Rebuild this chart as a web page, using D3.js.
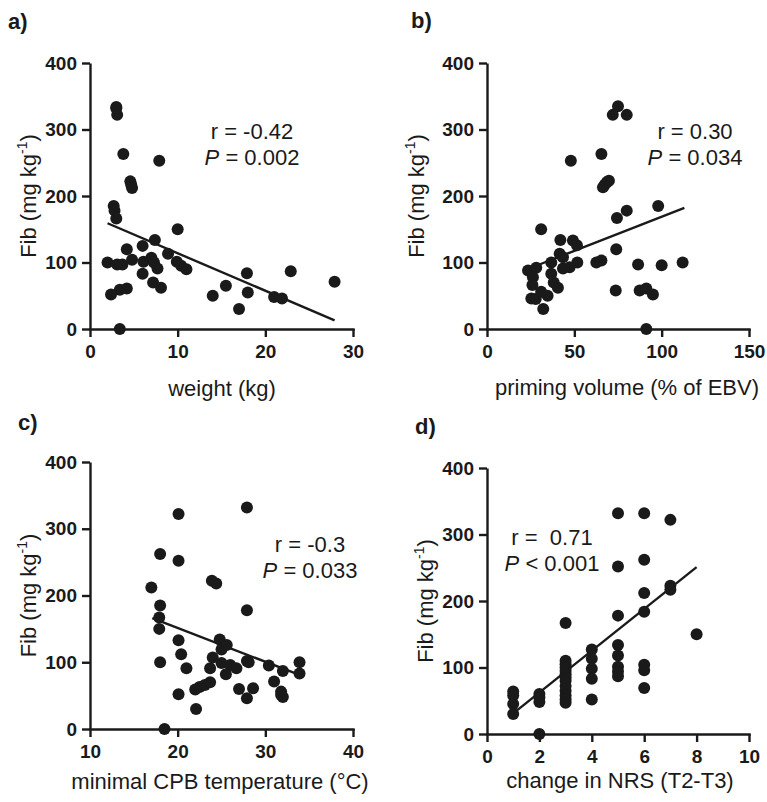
<!DOCTYPE html>
<html>
<head>
<meta charset="utf-8">
<script src="https://cdn.jsdelivr.net/npm/d3@7"></script>
<style>
  body { margin: 0; background: #fff; }
  svg text { font-family: "Liberation Sans", Arial, sans-serif; }
</style>
</head>
<body>
<script>
// data (Fib in mg/kg)

var weightX   = [3.0, 3.1, 3.8, 7.9, 4.6, 4.7, 4.8, 2.7, 2.8, 3.0, 10.0, 7.4, 6.0, 4.2, 8.9, 2.0, 3.1, 3.7, 4.8, 6.1, 7.0, 7.3, 7.7, 9.9, 10.4, 11.0, 6.0, 17.9, 22.9, 27.9, 7.2, 8.1, 15.5, 4.2, 3.4, 2.4, 14.0, 18.0, 21.0, 21.9, 17.0, 3.4, 3.0];
var weightFib = [334, 322, 263, 253, 222, 217, 212, 185, 178, 166, 150, 134, 125, 120, 113, 100, 97, 97, 104, 101, 107, 100, 91, 101, 95, 90, 83, 84, 87, 71, 70, 62, 65, 61, 59, 52, 50, 55, 48, 46, 30, 0, 332];

var primingX   = [75, 72, 80, 65.5, 48, 67.4, 68.7, 69.8, 66.4, 98, 80, 74.4, 31, 42, 49.2, 51.5, 74, 41.6, 43.5, 36.8, 51.7, 62.6, 65.5, 86.5, 100, 112, 23.5, 28.2, 36.8, 43.5, 47.3, 26.3, 26, 38.2, 40.6, 73.7, 87.4, 91.2, 95, 31, 34.7, 25.4, 27.9, 32.2, 91.2];
var primingFib = [335, 322, 322, 263, 253, 217, 221, 223, 213, 185, 178, 167, 150, 134, 133, 126, 120, 113, 108, 100, 100, 100, 103, 97, 96, 100, 88, 92, 83, 91, 93, 78, 66, 70, 62, 58, 58, 61, 52, 56, 50, 46, 45, 30, 0];

var tempX   = [27.9, 20.1, 18.0, 20.1, 17.0, 23.9, 24.4, 27.9, 18.0, 17.9, 17.9, 20.1, 24.8, 25.0, 25.6, 20.4, 24.0, 27.9, 28.1, 18.0, 21.0, 23.7, 25.0, 26.0, 26.7, 25.5, 30.4, 32.0, 33.9, 33.9, 31.0, 23.7, 23.1, 22.5, 22.0, 27.0, 28.6, 27.9, 31.8, 31.8, 32.0, 20.1, 22.1, 18.5];
var tempFib = [332, 322, 262, 252, 212, 222, 218, 178, 185, 167, 150, 133, 134, 119, 126, 112, 107, 102, 100, 100, 91, 91, 99, 96, 91, 82, 95, 87, 100, 83, 71, 70, 66, 63, 59, 60, 61, 46, 56, 51, 48, 52, 30, 0];

var nrsX   = [1, 1, 1, 1, 2, 2, 2, 2, 3, 3, 3, 3, 3, 3, 3, 3, 3, 3, 3, 3, 3, 4, 4, 4, 4, 4, 5, 5, 5, 5, 5, 5, 5, 5, 6, 6, 6, 6, 6, 6, 6, 7, 7, 7, 8];
var nrsFib = [64, 58, 45, 30, 60, 55, 48, 0, 167, 110, 105, 100, 95, 90, 85, 80, 72, 65, 58, 52, 47, 127, 113, 98, 83, 52, 332, 252, 178, 134, 118, 101, 94, 87, 332, 262, 212, 184, 104, 96, 69, 322, 223, 217, 150];

// regression line end points [x1, y1, x2, y2]
var weightLine  = [2, 159, 27.9, 13];
var primingLine = [30, 97, 113, 182];
var tempLine    = [17.1, 166, 33.9, 81];
var nrsLine     = [1, 31, 8, 251];

// tick labels
var fibTicks     = [0, 100, 200, 300, 400];
var weightTicks  = [0, 10, 20, 30];
var primingTicks = [0, 50, 100, 150];
var tempTicks    = [10, 20, 30, 40];
var nrsTicks     = [0, 2, 4, 6, 8, 10];

var ink = "#1a1a1a";

var svg = d3.select("body").append("svg")
  .attr("width", 767)
  .attr("height", 802);

var panels = [
  { tag: "a)", tagX: 8, tagY: 29, xs: weightX, ys: weightFib, line: weightLine,
    xDom: [0, 30], xTicks: weightTicks, left: 90, right: 353, top: 63, bottom: 329,
    xTitle: "weight (kg)", xTitleX: 222, xTitleY: 396, yTitleX: 36,
    stat1: "r = -0.42", stat2: [" = 0.002"], statX: 252, statY: 139 },
  { tag: "b)", tagX: 411, tagY: 28, xs: primingX, ys: primingFib, line: primingLine,
    xDom: [0, 150], xTicks: primingTicks, left: 487, right: 749, top: 63, bottom: 329,
    xTitle: "priming volume (% of EBV)", xTitleX: 627, xTitleY: 395, yTitleX: 424,
    stat1: "r = 0.30", stat2: [" = 0.034"], statX: 695, statY: 139 },
  { tag: "c)", tagX: 18, tagY: 430, xs: tempX, ys: tempFib, line: tempLine,
    xDom: [10, 40], xTicks: tempTicks, left: 90, right: 353, top: 462, bottom: 729,
    xTitle: "minimal CPB temperature (°C)", xTitleX: 220, xTitleY: 789, yTitleX: 36,
    stat1: "r = -0.3", stat2: [" = 0.033"], statX: 310, statY: 552 },
  { tag: "d)", tagX: 415, tagY: 434, xs: nrsX, ys: nrsFib, line: nrsLine,
    xDom: [0, 10], xTicks: nrsTicks, left: 487, right: 749, top: 468, bottom: 734,
    xTitle: "change in NRS (T2-T3)", xTitleX: 620, xTitleY: 788, yTitleX: 433,
    stat1: "r =  0.71", stat2: [" < 0.001"], statX: 552, statY: 545 }
];

panels.forEach(function(p) {
  var x = d3.scaleLinear().domain(p.xDom).range([p.left, p.right]);
  var y = d3.scaleLinear().domain([0, 400]).range([p.bottom, p.top]);

  // panel letter
  svg.append("text")
    .attr("x", p.tagX)
    .attr("y", p.tagY)
    .attr("font-size", 22)
    .attr("font-weight", "bold")
    .attr("fill", ink)
    .text(p.tag);

  // axes
  var gx = svg.append("g")
    .attr("transform", "translate(0," + p.bottom + ")")
    .call(d3.axisBottom(x).tickValues(p.xTicks).tickFormat(d3.format("d"))
      .tickSize(8).tickSizeOuter(0).tickPadding(8));

  var gy = svg.append("g")
    .attr("transform", "translate(" + p.left + ",0)")
    .call(d3.axisLeft(y).tickValues(fibTicks).tickFormat(d3.format("d"))
      .tickSize(8).tickSizeOuter(0).tickPadding(5));

  [gx, gy].forEach(function(g) {
    g.attr("font-family", null).attr("font-size", null);
    g.select(".domain").attr("stroke", ink).attr("stroke-width", 2.4);
    g.selectAll(".tick line").attr("stroke", ink).attr("stroke-width", 2.4);
    g.selectAll(".tick text")
      .attr("fill", ink)
      .attr("font-size", 19)
      .attr("font-weight", "bold");
  });
  gx.select(".domain").attr("stroke-linecap", "square");

  // axis titles
  svg.append("text")
    .attr("x", p.xTitleX)
    .attr("y", p.xTitleY)
    .attr("text-anchor", "middle")
    .attr("font-size", 22)
    .attr("fill", ink)
    .text(p.xTitle);

  var yt = svg.append("text")
    .attr("transform", "translate(" + p.yTitleX + "," + ((p.top + p.bottom) / 2) + ") rotate(-90)")
    .attr("text-anchor", "middle")
    .attr("font-size", 22)
    .attr("fill", ink);
  yt.append("tspan").text("Fib (mg kg");
  yt.append("tspan").attr("font-size", 14).attr("dy", -9).text("-1");
  yt.append("tspan").attr("dy", 9).text(")");

  // regression line
  svg.append("line")
    .attr("x1", x(p.line[0])).attr("y1", y(p.line[1]))
    .attr("x2", x(p.line[2])).attr("y2", y(p.line[3]))
    .attr("stroke", ink)
    .attr("stroke-width", 2.4);

  // points
  svg.append("g").selectAll("circle")
    .data(p.xs.map(function(v, i) { return [v, p.ys[i]]; }))
    .enter()
    .append("circle")
      .attr("cx", function(d) { return x(d[0]); })
      .attr("cy", function(d) { return y(d[1]); })
      .attr("r", 6)
      .attr("fill", ink);

  // r and P
  svg.append("text")
    .attr("x", p.statX)
    .attr("y", p.statY)
    .attr("text-anchor", "middle")
    .attr("font-size", 22)
    .attr("fill", ink)
    .style("white-space", "pre")
    .text(p.stat1);

  var st = svg.append("text")
    .attr("x", p.statX)
    .attr("y", p.statY + 26)
    .attr("text-anchor", "middle")
    .attr("font-size", 22)
    .attr("fill", ink);
  st.append("tspan").attr("font-style", "italic").text("P");
  st.append("tspan").style("white-space", "pre").text(p.stat2[0]);
});
</script>
</body>
</html>
